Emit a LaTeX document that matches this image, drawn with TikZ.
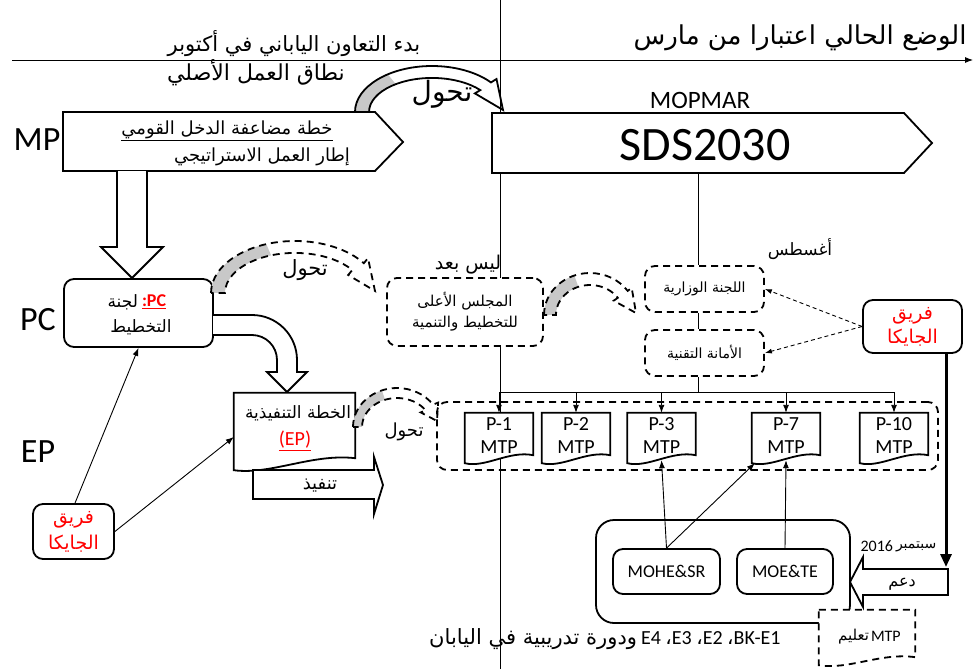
\documentclass[tikz,border=0pt]{standalone}
\usepackage{fontspec}
\setmainfont{Carlito}
\newfontfamily\arfont[Script=Arabic]{DejaVu Sans}
\TeXXeTstate=1
\usetikzlibrary{arrows.meta,calc}
\definecolor{bandgray}{HTML}{C8C8C8}
\newcommand\fs[1]{\fontsize{#1}{#1}\selectfont}
\newcommand\AR[1]{{\arfont\beginR #1\endR}}
\newcommand\docshape[3][]{%
  \draw[box,#1] (#2.north west) -- (#2.north east) -- ($(#2.south east)+(0,-#3)$)
    .. controls ($(#2.south east)!0.35!(#2.south west)+(0,-#3-5)$) and ($(#2.south east)!0.7!(#2.south west)+(0,5)$) .. (#2.south west) -- cycle;}
\begin{document}
\begin{tikzpicture}[x=1pt,y=-1pt,
  box/.style={draw,line width=1.8pt,fill=white},
  rbox/.style={draw,line width=1.8pt,fill=white,rounded corners=10pt},
  dbox/.style={draw,line width=1.8pt,fill=white,rounded corners=10pt,dash pattern=on 7pt off 5pt},
  band/.style={line width=1.8pt},
  dband/.style={line width=1.8pt,dash pattern=on 7pt off 5pt},
  conn/.style={line width=0.9pt,-{Latex[length=8pt,width=6pt]}},
  dconn/.style={line width=0.9pt,dash pattern=on 4pt off 3pt,-{Latex[length=7pt,width=5pt]}},
  plain/.style={line width=0.9pt},
  lbl/.style={inner sep=0pt,outer sep=0pt},
]
\useasboundingbox (0,0) rectangle (974,669);
\fill[white] (0,0) rectangle (974,669);

% divider and timeline
\coordinate (vt) at (500,0); \coordinate (vb) at (500,669);
\draw[plain] (vt) -- (vb);
\coordinate (ts) at (12,60); \coordinate (te) at (973,60);
\draw[plain,-{Latex[length=8pt,width=6pt]}] (ts) -- (te);

% headers
\node[lbl,font=\fs{21}] (hl) at (294,44) {\AR{بدء التعاون الياباني في أكتوبر}};
\node[lbl,font=\fs{26}] (hr) at (800,38) {\AR{الوضع الحالي اعتبارا من مارس}};
\node[lbl,font=\fs{22}] (scope) at (256,73) {\AR{نطاق العمل الأصلي}};

% row labels
\node[lbl,font=\fs{34}] (lmp) at (37,140) {MP};
\node[lbl,font=\fs{34}] (lpc) at (38,320) {PC};
\node[lbl,font=\fs{34}] (lep) at (38,452) {EP};

% MP box
\draw[box] (63,112) -- (375,112) -- (403,142) -- (375,171) -- (63,171) -- cycle;
\node[lbl,font=\fs{18}] (mp1) at (227,131) {\underline{\AR{خطة مضاعفة الدخل القومي}}};
\node[lbl,font=\fs{18}] (mp2) at (262,157) {\AR{إطار العمل الاستراتيجي}};

% MP -> PC block arrow
\draw[box] (117,171) -- (117,247) -- (101,247) -- (132,278) -- (163,247) -- (147,247) -- (147,171);

% PC box
\node[rbox,minimum width=149pt,minimum height=68pt] (pc) at (138.5,313) {};
\node[lbl,font=\fs{17},anchor=east] (pct1a) at (138,302) {\AR{لجنة}};
\node[lbl,font=\fs{18},text=red,anchor=west] (pct1b) at (142,302) {\bfseries\underline{:PC}};
\node[lbl,font=\fs{17}] (pct2) at (141,327) {\AR{التخطيط}};

% PC -> EP block arrow
\draw[box] (213,315) -- (252,315) arc[start angle=270,end angle=360,radius=45] -- (297,372) -- (307,372) -- (287,392) -- (267,372) -- (277,372) -- (277,360) arc[start angle=360,end angle=270,radius=25] -- (213,335);

% EP box
\node[minimum width=121pt,minimum height=77pt,inner sep=0pt] (ep) at (294.5,431.5) {};
\docshape{ep}{12}
\node[lbl,font=\fs{17}] (ep1) at (298,413) {\AR{الخطة التنفيذية}};
\node[lbl,font=\fs{20},text=red] (ep2) at (295,441) {\underline{(EP)}};

% execution arrow
\draw[box] (253,470) -- (374,470) -- (374,457) -- (383,485) -- (374,514) -- (374,499) -- (253,499) -- cycle;
\node[lbl,font=\fs{18}] (tanfith) at (320,486) {\AR{تنفيذ}};

% JICA left
\node[rbox,minimum width=81pt,minimum height=55pt,inner sep=0pt,text=red,align=center,font=\arfont\fontsize{19}{26}\selectfont] (jicaL) at (73.5,531.5) {\beginR فريق\endR\\\beginR الجايكا\endR};
\draw[conn] ([xshift=1.5pt]jicaL.north) -- (pc.south);
\draw[conn] (jicaL.east) -- ([yshift=-5.5pt]ep.west);

% council
\node[dbox,minimum width=156pt,minimum height=68pt,align=center,font=\arfont\fontsize{15}{21}\selectfont] (council) at (465,312) {\beginR المجلس الأعلى\endR\\\beginR للتخطيط والتنمية\endR};
\node[lbl,font=\fs{19}] (notyet) at (468,265) {\AR{ليس بعد}};

% SDS
\draw[box] (492,113) -- (904,113) -- (932,143) -- (904,173) -- (492,173) -- cycle;
\node[lbl,font=\fs{48}] (sds) at (705,145) {SDS2030};
\node[lbl,font=\fs{25}] (mopmar) at (700,100) {MOPMAR};

% ministerial committee and secretariat
\node[dbox,minimum width=119pt,minimum height=46pt,font=\arfont\fs{14}] (minc) at (704.5,289) {\beginR اللجنة الوزارية\endR};
\node[dbox,minimum width=119pt,minimum height=46pt,font=\arfont\fs{14}] (sec) at (704.5,353) {\beginR الأمانة التقنية\endR};
\node[lbl,font=\fs{17}] (aug) at (800,249) {\AR{أغسطس}};
\coordinate (sdsb) at (698,173);
\draw[plain] (sdsb) -- (minc.north -| sdsb);
\draw[plain] (minc.south -| sdsb) -- (sec.north -| sdsb);
\coordinate (bus) at (698,392);
\draw[plain] (sec.south -| bus) -- (bus);

% JICA right
\node[rbox,minimum width=99pt,minimum height=53pt,inner sep=0pt,text=red,align=center,font=\arfont\fontsize{19}{24}\selectfont] (jicaR) at (912.5,326.5) {\beginR فريق\endR\\\beginR الجايكا\endR};
\draw[dconn] (jicaR.west) -- (minc.east);
\draw[dconn] (jicaR.west) -- (sec.east);

% MTP group
\node[dbox,fill=none,minimum width=501pt,minimum height=68pt] (grp) at (687.5,436) {};
\foreach \n/\x/\t in {p1/499/P-1,p2/576/P-2,p3/661.5/P-3,p7/786/P-7,p10/894/P-10} {
  \node[minimum width=68pt,minimum height=50pt,inner sep=0pt] (\n) at (\x,438) {};
  \docshape{\n}{8}
  \node[lbl,align=center,font=\fontsize{20}{23}\selectfont] (\n-t) at (\x,436) {\t\\MTP};
}
\draw[plain] (p1.north |- bus) -- (p10.north |- bus);
\foreach \n in {p1,p2,p3,p7,p10} \draw[conn] (\n.north |- bus) -- (\n.north);

% ministries group
\node[rbox,rounded corners=18pt,minimum width=254pt,minimum height=103pt] (mgrp) at (723,571.5) {};
\node[rbox,minimum width=107pt,minimum height=45pt,font=\fs{18}] (mohe) at (666.5,571.5) {MOHE\&SR};
\node[rbox,minimum width=96pt,minimum height=45pt,font=\fs{18}] (moe) at (785,571.5) {MOE\&TE};
\draw[conn] (mohe.north) -- ([yshift=3pt]p3.south);
\draw[conn] (mohe.north) -- ([xshift=3pt]p7.south west);
\draw[conn] (moe.north) -- ([yshift=3pt]p7.south);

% MTP education
\node[minimum width=96pt,minimum height=55pt,inner sep=0pt] (mtpedu) at (867,637.5) {};
\docshape[dash pattern=on 7pt off 5pt]{mtpedu}{8}
\node[lbl,font=\fs{15},anchor=east] (mtpedua) at (869,637) {\AR{تعليم}};
\node[lbl,font=\fs{16},anchor=west] (mtpedub) at (871,636) {MTP};

% support arrow
\draw[box] (948,569) -- (863,569) -- (863,557) -- (850,582) -- (863,607) -- (863,595) -- (948,595) -- cycle;
\node[lbl,font=\fs{16}] (daam) at (902,584) {\AR{دعم}};
\coordinate (suptop) at (946,567);
\draw[line width=3pt,-{Triangle[length=13pt,width=11pt]}] ([xshift=33.5pt]jicaR.south) -- (suptop);
\node[lbl,font=\fs{16},anchor=east] (septa) at (893,546) {2016};
\node[lbl,font=\fs{14},anchor=west] (septb) at (896,547) {\AR{سبتمبر}};

% bottom text
\node[lbl,font=\fs{21},anchor=east] (bota) at (637,639) {\AR{ودورة تدريبية في اليابان}};
\node[lbl,font=\fs{20},anchor=west] (botb) at (641,638) {E4 {\arfont،}E3 {\arfont،}E2 {\arfont،}BK-E1};

% curved transition arrows
% 1: MP -> SDS
\fill[bandgray] (355,112) arc[start angle=180,end angle=235,x radius=77,y radius=46] -- (395.8,84.2) arc[start angle=235,end angle=180,x radius=63,y radius=34] -- cycle;
\draw[band] (355,112) arc[start angle=180,end angle=320,x radius=77,y radius=46] -- (496.5,79) -- (503,110) -- (474.9,93.4) -- (480.3,90.1) arc[start angle=320,end angle=180,x radius=63,y radius=34] -- cycle;
\node[lbl,font=\fs{28}] (tr1) at (442,94) {\AR{تحول}};
% 2: PC -> council
\fill[bandgray] (211,293) arc[start angle=180,end angle=250,x radius=84,y radius=52] -- (271.1,255.4) arc[start angle=250,end angle=180,x radius=70,y radius=40] -- cycle;
\draw[dband] (211,293) arc[start angle=180,end angle=325,x radius=84,y radius=52] -- (368.0,258.2) -- (375,291) -- (348.2,275.0) -- (352.3,270.0) arc[start angle=325,end angle=180,x radius=70,y radius=40] -- cycle;
\node[lbl,font=\fs{21}] (tr2) at (305,270) {\AR{تحول}};
% 3: council -> ministerial
\fill[bandgray] (544,315) arc[start angle=180,end angle=250,x radius=46,y radius=42] -- (578.4,286.8) arc[start angle=250,end angle=180,x radius=34,y radius=30] -- cycle;
\draw[dband] (544,315) arc[start angle=180,end angle=325,x radius=46,y radius=42] -- (631.7,287.9) -- (636,313) -- (613.7,300.7) -- (617.8,297.8) arc[start angle=325,end angle=180,x radius=34,y radius=30] -- cycle;
% 4: EP -> MTP group
\fill[bandgray] (353,427) arc[start angle=180,end angle=250,x radius=44,y radius=39] -- (385.0,399.7) arc[start angle=250,end angle=180,x radius=35,y radius=29] -- cycle;
\draw[dband] (353,427) arc[start angle=180,end angle=325,x radius=44,y radius=39] -- (438.1,402.6) -- (437,421) -- (420.7,412.4) -- (425.7,410.4) arc[start angle=325,end angle=180,x radius=35,y radius=29] -- cycle;
\node[lbl,font=\fs{18}] (tr3) at (404,432) {\AR{تحول}};
\end{tikzpicture}
\end{document}
